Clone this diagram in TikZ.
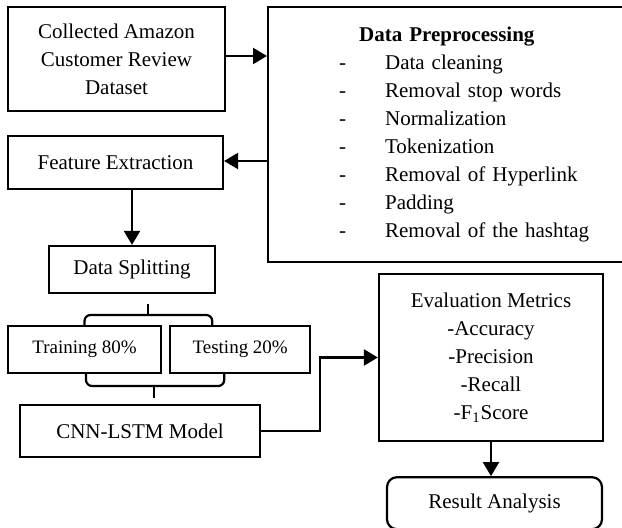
\documentclass[tikz,border=0pt]{standalone}
\usepackage{fontspec}
\setmainfont{Liberation Serif}
\usetikzlibrary{arrows.meta, positioning, calc}

\begin{document}
\begin{tikzpicture}[
    x=0.5pt, y=-0.5pt,
    box/.style={rectangle, draw, line width=1.1pt, inner sep=0pt, align=center, font=\fontsize{10.5}{14}\selectfont},
    smallbox/.style={box, font=\fontsize{9.5}{12}\selectfont, minimum height=23.5pt},
    arrow/.style={-{Triangle[length=7pt, width=8pt]}, line width=1.1pt},
    bracket/.style={line width=1.1pt, rounded corners=3pt},
]
\useasboundingbox (0,0) rectangle (622,528);
\clip (0,0) rectangle (622,528);

% Input data
\node[box, minimum width=108.5pt, minimum height=52pt] (data) at (116.5,59) {Collected Amazon\\Customer Review\\Dataset};

% Preprocessing (right edge runs off the page)
\node[box, anchor=west, inner xsep=35.5pt, text width=140pt, minimum height=127.5pt, align=left] (prep) at (267,134.5)
    {\hspace*{10pt}\textbf{Data Preprocessing}\\
     \makebox[23pt][l]{-}Data cleaning\\
     \makebox[23pt][l]{-}Removal stop words\\
     \makebox[23pt][l]{-}Normalization\\
     \makebox[23pt][l]{-}Tokenization\\
     \makebox[23pt][l]{-}Removal of Hyperlink\\
     \makebox[23pt][l]{-}Padding\\
     \makebox[23pt][l]{-}Removal of the hashtag};

% Features and splitting
\node[box, minimum width=107.5pt, minimum height=26.5pt] (feat) at (115.5,162.5) {Feature Extraction};
\node[box, minimum width=83pt, minimum height=23.5pt] (split) at (132,269.5) {Data Splitting};

% Train / test
\node[smallbox, minimum width=76.5pt] (train) at (84.5,349.5) {Training 80\%};
\node[smallbox, minimum width=70pt, right=3.5pt of train] (test) {\raisebox{1.5pt}{Testing 20\%}};

% Model
\node[box, minimum width=120pt, minimum height=26pt] (model) at (140,431) {CNN-LSTM Model};

% Evaluation
\node[box, minimum width=112pt, minimum height=83.5pt] (eval) at (491,357.5) {Evaluation Metrics\\-Accuracy\\-Precision\\-Recall\\-F\textsubscript{1}Score};
\node[box, rounded corners=5pt, minimum width=107.5pt, minimum height=26pt, below=17pt of eval, xshift=1.75pt] (result) {Result Analysis};

% Brackets
\coordinate (splitend) at (148,304);
\coordinate (modelend) at (154,398);
\draw[bracket] (train.north) |- (148,315) -| ([xshift=-14pt]test.north);
\draw[bracket] (148,315) -- (splitend);
\draw[bracket] ([xshift=0.75pt]train.south) |- (154,386) -| ([xshift=-8pt]test.south);
\draw[bracket] (154,386) -- (modelend);

% Arrows
\draw[arrow] (data.east |- 0,56) -- (prep.west |- 0,56);
\draw[arrow] (prep.west |- 0,161) -- (feat.east |- 0,161);
\draw[arrow] (feat.south -| split.north) -- (split.north);
\draw[arrow] (model.east) -- ++(59,0) |- (eval.west);
\draw[arrow] (eval.south) -- (eval.south |- result.north);

\end{tikzpicture}
\end{document}
